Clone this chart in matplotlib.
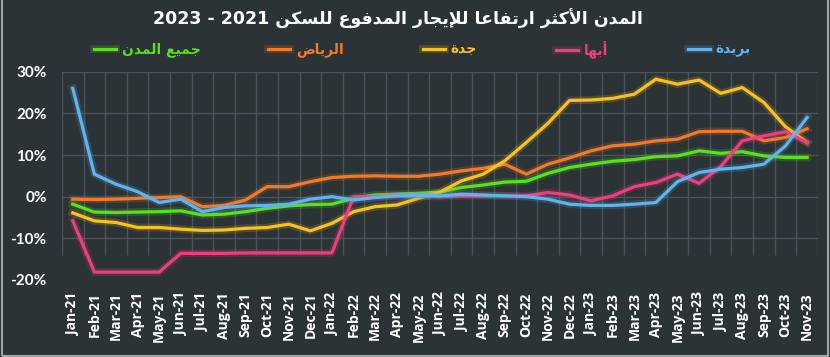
import matplotlib
matplotlib.use("Agg")
import matplotlib.pyplot as plt
import matplotlib.patheffects as pe
import numpy as np
import pandas as pd

# month labels Jan-21 .. Nov-23
months = list(pd.date_range("2021-01-01", periods=35, freq="MS").strftime("%b-%y"))

# yearly change of paid housing rent, %
buraydah = [26.0, 5.4, 3.0, 1.2, -1.4, -0.6, -3.6, -2.6, -2.2, -2.1,
            -1.8, -0.6, 0.0, -0.8, -0.2, 0.2, 0.3, 0.2, 0.6, 0.4,
            0.2, 0.0, -0.6, -1.8, -2.1, -2.1, -1.8, -1.4, 3.6, 5.8,
            6.6, 7.0, 7.8, 12.2, 19.0]
abha = [-5.8, -18.1, -18.1, -18.1, -18.1, -13.6, -13.6, -13.6, -13.5, -13.5,
        -13.5, -13.5, -13.5, 0.0, 0.0, 0.2, 0.2, 0.0, 0.2, 0.2,
        0.2, 0.2, 1.0, 0.4, -1.0, 0.2, 2.4, 3.4, 5.4, 3.2,
        7.2, 13.4, 14.6, 15.6, 13.0]
jeddah = [-3.9, -5.8, -6.2, -7.4, -7.4, -7.8, -8.1, -8.0, -7.6, -7.4,
          -6.6, -8.2, -6.4, -3.6, -2.4, -2.0, -0.4, 1.1, 3.8, 5.4,
          8.6, 13.0, 17.6, 23.1, 23.2, 23.6, 24.6, 28.2, 27.0, 28.0,
          24.8, 26.2, 22.6, 16.8, 13.0]
riyadh = [-0.6, -0.7, -0.6, -0.4, -0.2, 0.0, -2.4, -2.1, -0.8, 2.4,
          2.4, 3.6, 4.6, 4.9, 5.0, 4.9, 4.9, 5.4, 6.2, 6.8,
          7.8, 5.4, 7.8, 9.3, 11.0, 12.2, 12.6, 13.4, 13.8, 15.6,
          15.7, 15.7, 13.4, 14.2, 16.3]
all_cities = [-1.8, -3.7, -3.8, -3.7, -3.6, -3.4, -4.4, -4.2, -3.6, -2.8,
              -2.2, -1.9, -1.8, -0.4, 0.4, 0.6, 0.8, 1.1, 2.2, 2.8,
              3.5, 3.7, 5.6, 7.0, 7.8, 8.5, 8.9, 9.6, 9.8, 11.0,
              10.4, 10.8, 9.8, 9.4, 9.4]

title_ar = "المدن الأكثر ارتفاعا للإيجار المدفوع للسكن"
title_years = "2023 - 2021"
names = ["جميع المدن", "الرياض", "جدة", "أبها", "بريدة"]
colors = ["#58e11c", "#f27a27", "#f8c11f", "#ef3e7f", "#5fb4ef"]
yticks = [-20, -10, 0, 10, 20, 30]

BG = "#2c3337"


# --- small arabic shaper (matplotlib has no RTL shaping) ---
def _f(code, dual=True):
    return (code, code + 1, code + 2, code + 3) if dual else (code, code + 1, None, None)

AR = {
    "ء": (0xFE80, None, None, None),
    "آ": _f(0xFE81, False), "أ": _f(0xFE83, False), "ؤ": _f(0xFE85, False),
    "إ": _f(0xFE87, False), "ئ": _f(0xFE89), "ا": _f(0xFE8D, False),
    "ب": _f(0xFE8F), "ة": _f(0xFE93, False), "ت": _f(0xFE95), "ث": _f(0xFE99),
    "ج": _f(0xFE9D), "ح": _f(0xFEA1), "خ": _f(0xFEA5), "د": _f(0xFEA9, False),
    "ذ": _f(0xFEAB, False), "ر": _f(0xFEAD, False), "ز": _f(0xFEAF, False),
    "س": _f(0xFEB1), "ش": _f(0xFEB5), "ص": _f(0xFEB9), "ض": _f(0xFEBD),
    "ط": _f(0xFEC1), "ظ": _f(0xFEC5), "ع": _f(0xFEC9), "غ": _f(0xFECD),
    "ف": _f(0xFED1), "ق": _f(0xFED5), "ك": _f(0xFED9), "ل": _f(0xFEDD),
    "م": _f(0xFEE1), "ن": _f(0xFEE5), "ه": _f(0xFEE9), "و": _f(0xFEED, False),
    "ى": _f(0xFEEF, False), "ي": _f(0xFEF1),
}
LAM_ALEF = {"آ": 0xFEF5, "أ": 0xFEF7, "إ": 0xFEF9, "ا": 0xFEFB}


def shape_word(w):
    toks = []
    i = 0
    while i < len(w):
        if w[i] == "ل" and i + 1 < len(w) and w[i + 1] in LAM_ALEF:
            toks.append(("LA", w[i + 1]))
            i += 2
        else:
            toks.append((w[i], None))
            i += 1

    def joins_next(t):
        return t[0] in AR and AR[t[0]][2] is not None

    def joins(t):
        return t[0] == "LA" or (t[0] in AR and AR[t[0]][1] is not None)

    out = []
    for k, t in enumerate(toks):
        prev = k > 0 and joins_next(toks[k - 1]) and joins(t)
        nxt = k + 1 < len(toks) and joins_next(t) and joins(toks[k + 1])
        if t[0] == "LA":
            out.append(chr(LAM_ALEF[t[1]] + (1 if prev else 0)))
        elif t[0] in AR:
            f = AR[t[0]]
            if prev and nxt:
                c = f[3]
            elif prev:
                c = f[1]
            elif nxt:
                c = f[2]
            else:
                c = f[0]
            out.append(chr(c))
        else:
            out.append(t[0])
    return "".join(out)


def ar(text):
    return " ".join(shape_word(w)[::-1] for w in text.split(" ")[::-1])


fig = plt.figure(figsize=(8.3, 3.57), dpi=100, facecolor=BG)
ax = fig.add_axes([0.0747, 0.2157, 0.9107, 0.5835])
ax.set_facecolor(BG)

x = np.arange(len(months))
series = [all_cities, riyadh, jeddah, abha, buraydah]
lines = []
for vals, name, col in zip(series, names, colors):
    ln, = ax.plot(x, vals, color=col, lw=2.3, label=ar(name), solid_joinstyle="round",
                  path_effects=[pe.Stroke(linewidth=5.5, foreground=col, alpha=0.18), pe.Normal()])
    lines.append(ln)

ax.set_xlim(-0.5, len(months) - 0.5)
ax.set_ylim(-20, 30)
ax.set_yticks(yticks)
ax.set_yticklabels([f"{v}%" for v in yticks])
ax.set_xticks(x)
ax.set_xticklabels(months, rotation=90)

grid_col = "#4a5357"
for v in yticks[1:]:
    ax.axhline(v, color=grid_col, lw=1, zorder=0)
ax.vlines(np.arange(-0.5, len(months)), -14, 30, color=grid_col, lw=1, zorder=0)

for s in ax.spines.values():
    s.set_visible(False)
ax.tick_params(length=0, colors="white")
ax.tick_params(axis="y", pad=11)
ax.tick_params(axis="x", pad=9)
for lab in ax.get_yticklabels():
    lab.set_fontfamily("Lato")
    lab.set_fontweight("bold")
    lab.set_fontsize(11)
for lab in ax.get_xticklabels():
    lab.set_fontfamily("Open Sans")
    lab.set_fontweight("bold")
    lab.set_fontsize(10)

fig.text(0.48, 0.948, title_years + " " + ar(title_ar), ha="center", va="center",
         color="white", fontsize=12.5, fontweight="bold", family="DejaVu Sans")

# legend entries, each placed where the reference has it (left edge in px)
leg_left = [94, 268, 423, 556, 688]
for ln, px in zip(lines, leg_left):
    leg = fig.legend(handles=[ln], loc="center left", bbox_to_anchor=(px / 830, 0.86),
                     frameon=False, handlelength=1.6, handletextpad=0.4, borderpad=0,
                     borderaxespad=0, labelcolor="linecolor",
                     prop={"family": "DejaVu Sans", "weight": "bold", "size": 10})

# light frame on the picture edge
fig.add_artist(plt.Rectangle((0.002, 0.004), 0.996, 1.2, transform=fig.transFigure,
                             fill=False, edgecolor="#9ea4a7", lw=1.5))

fig.savefig("out.png", dpi=100, facecolor=BG)
